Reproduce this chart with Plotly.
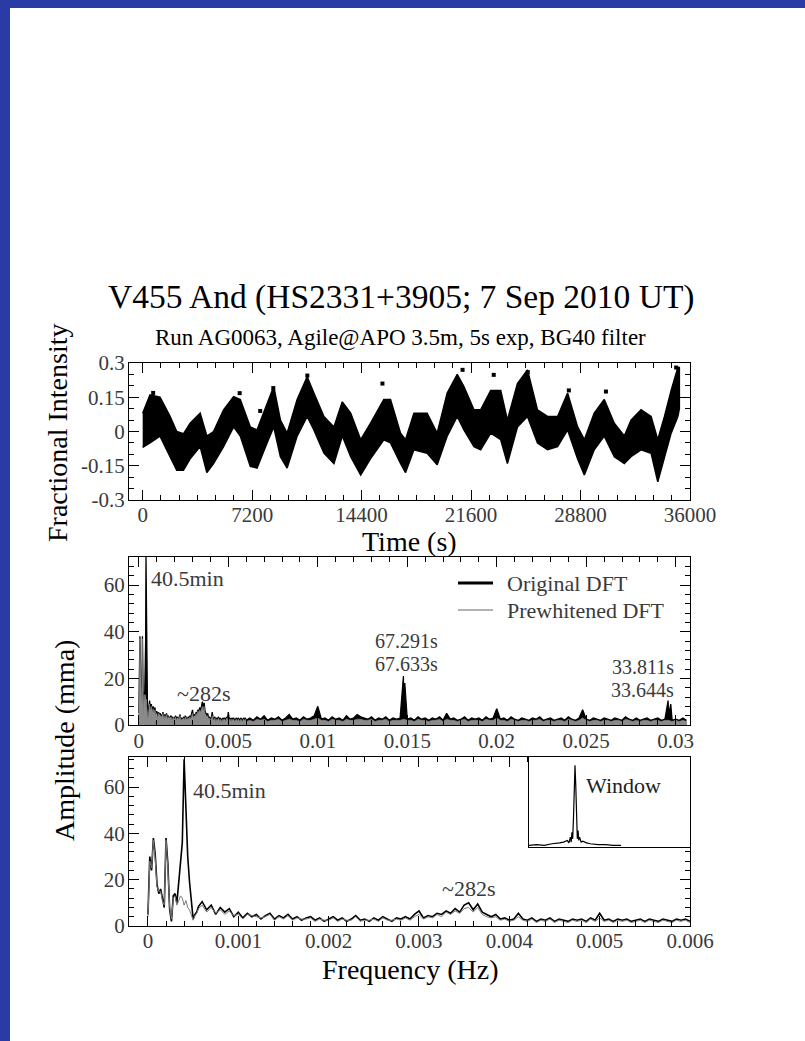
import numpy as np
import plotly.graph_objects as go

W, H = 805, 1041
FONT = "Liberation Serif"
TXT = "#3a3a3a"

# ---------------- light curve (envelope of the dense point band) ----------------
lc_t = [0, 480, 1140, 1800, 2240, 2680, 3120, 3780, 4220, 4660,
        5320, 5980, 6420, 7080, 7520, 8180, 8620, 9060, 9500, 10160,
        10820, 11260, 11920, 12580, 13130, 13680, 14340, 14980, 15860, 16300,
        16960, 17290, 17840, 18710, 19370, 20030, 20690, 21130, 21790, 22230,
        22890, 23550, 23990, 24650, 25310, 25970, 26630, 27290, 27950, 28610,
        29050, 29700, 30360, 31020, 31680, 32120, 32780, 33440, 33880, 34320,
        34760, 35200, 35300]
lc_upper = [0.08, 0.16, 0.15, 0.066, 0.0, -0.01, 0.036, 0.08, -0.02, 0.0,
            0.095, 0.153, 0.14, 0.02, 0.007, 0.124, 0.197, 0.05, -0.007, 0.14,
            0.24, 0.168, 0.066, 0.02, 0.13, 0.08, -0.036, 0.036, 0.14, 0.14,
            -0.007, -0.036, 0.08, 0.08, -0.007, 0.168, 0.25, 0.197, 0.095, 0.095,
            0.18, 0.18, 0.05, 0.21, 0.27, 0.095, 0.066, 0.066, 0.168, 0.02,
            -0.036, 0.08, 0.14, 0.036, -0.02, 0.05, 0.095, 0.066, -0.036, 0.066,
            0.18, 0.28, 0.28]
lc_lower = [-0.07, -0.05, -0.02, -0.11, -0.17, -0.17, -0.12, -0.066, -0.18, -0.14,
            -0.066, 0.02, -0.02, -0.153, -0.16, -0.05, 0.02, -0.11, -0.16, -0.02,
            0.066, 0.007, -0.095, -0.14, -0.02, -0.11, -0.19, -0.12, -0.036, -0.05,
            -0.14, -0.18, -0.08, -0.095, -0.146, -0.02, 0.066, 0.007, -0.066, -0.08,
            -0.007, -0.036, -0.14, 0.02, 0.066, -0.05, -0.08, -0.066, 0.007, -0.12,
            -0.19, -0.08, -0.02, -0.11, -0.14, -0.11, -0.08, -0.095, -0.22, -0.11,
            -0.007, 0.066, 0.1]
out_t = [690, 6380, 7730, 8590, 10830, 15770, 21040, 23090, 25330, 28030, 30470, 35090]
out_v = [0.169, 0.168, 0.09, 0.19, 0.245, 0.21, 0.27, 0.248, 0.26, 0.18, 0.175, 0.28]

# ---------------- DFT (amplitude in mma) ----------------
f_core = np.round(np.arange(0.0, 0.00060001, 0.00002), 6)      # 31 values
f_mid = np.round(np.arange(0.00065, 0.0060001, 0.00005), 6)    # 108 values
f_hi = np.round(np.arange(0.0062, 0.0306001, 0.0002), 5)       # 123 values

orig_core = [5, 30, 24, 38, 31, 18, 14, 16, 12, 8,
             38, 27, 7, 2, 13, 14, 10, 19, 29, 36,
             72, 46, 30, 19, 9, 3, 5, 6, 8.5, 9.5, 10.5]
prew_core = [4, 28, 25, 37, 29, 17, 15, 15, 11, 9,
             37, 25, 8, 3, 12, 13, 9, 11, 13, 12,
             9, 11, 8, 7, 5, 2.5, 4.5, 5.5, 7.5, 8.5, 9]
orig_mid = [7, 9, 5, 8, 6, 7.5, 4, 6, 3.5, 5.5,
            4, 5, 3, 4.5, 5.5, 3, 4.5, 3.5, 5, 3,
            4, 2.5, 3.5, 4, 2.5, 3.5, 2, 3, 4, 2.5,
            3.5, 2, 3, 4.5, 2.5, 3, 2, 3.5, 2.5, 4,
            3, 2, 3.5, 3, 4, 3, 5, 6.5, 3.5, 4.5,
            4, 5.5, 5, 6.5, 5.5, 7.5, 6, 9, 10, 7,
            9.5, 6, 5, 4, 5, 3, 3.5, 2.5, 3, 5.5,
            3, 2.5, 3.5, 2, 3, 2.5, 3.5, 2, 3, 2.5,
            2, 3, 2.5, 3, 2, 3.5, 2.5, 5.5, 2.5, 3,
            2, 3, 2.5, 3, 2, 2.5, 3, 2, 3, 2.5,
            2, 3, 2.5, 2, 3, 2.5, 3, 2]
prew_mid = [6, 8, 5.5, 7, 5, 6.5, 4.5, 5, 3, 5,
            4.5, 4, 3.5, 4, 5, 2.5, 4, 3, 4.5, 2.5,
            3.5, 3, 3, 3.5, 2, 3, 2.5, 2.5, 3.5, 2,
            3, 2.5, 2.5, 4, 2, 2.5, 2.5, 3, 2, 3.5,
            2.5, 2.5, 3, 2.5, 3.5, 2.5, 4, 5, 3, 4,
            3.5, 5, 4, 6, 5, 6.5, 5.5, 7.5, 8, 6,
            8, 5, 4, 3.5, 4, 2.5, 3, 2, 2.5, 4,
            2.5, 2, 3, 1.5, 2.5, 2, 3, 1.5, 2.5, 2,
            1.5, 2.5, 2, 2.5, 1.5, 3, 2, 3.5, 2, 2.5,
            1.5, 2.5, 2, 2.5, 1.5, 2, 2.5, 1.5, 2.5, 2,
            1.5, 2.5, 2, 1.5, 2.5, 2, 2.5, 1.5]
orig_hi = [3, 2, 3.5, 2.5, 4, 2, 3, 2.5, 3.5, 2,
           3, 4.5, 2.5, 3, 2, 3.5, 2.5, 3, 4, 8,
           2.5, 3, 2, 3.5, 2.5, 3, 2, 4, 2.5, 3,
           4.5, 3.5, 3, 2.5, 3.5, 2, 3, 2.5, 3.5, 2,
           3, 2.5, 3, 6, 2.5, 3, 2, 3.5, 2.5, 3,
           2, 3, 2.5, 3.5, 2, 5, 2.5, 3, 2, 2.5,
           3.5, 2, 3, 2.5, 3, 2, 3.5, 2.5, 3, 7,
           2.5, 3, 2, 3.5, 2.5, 2, 3, 2.5, 2, 3,
           2.5, 3.5, 2, 2.5, 3, 2, 2.5, 3, 2, 3.5,
           2.5, 2, 3, 6.5, 2.5, 2, 3, 2.5, 2, 3,
           2.5, 2, 3, 2.5, 2, 3.5, 2.5, 2, 3, 2,
           2.5, 3, 2, 2.5, 3, 2, 2.5, 4, 2, 2.5,
           2, 3, 2]
prew_hi = [2, 1.5, 2.5, 2, 2.5, 1.5, 2, 2, 2.5, 1.5,
           2, 2.5, 2, 2, 1.5, 2.5, 2, 2, 2.5, 3,
           2, 2, 1.5, 2.5, 2, 2, 1.5, 2.5, 2, 2,
           2.5, 2.5, 2, 2, 2.5, 1.5, 2, 2, 2.5, 1.5,
           2, 2, 2, 2.5, 2, 2, 1.5, 2.5, 2, 2,
           1.5, 2, 2, 2.5, 1.5, 2.5, 2, 2, 1.5, 2,
           2.5, 1.5, 2, 2, 2, 1.5, 2.5, 2, 2, 3,
           2, 2, 1.5, 2.5, 2, 1.5, 2, 2, 1.5, 2,
           2, 2.5, 1.5, 2, 2, 1.5, 2, 2, 1.5, 2.5,
           2, 1.5, 2, 3, 2, 1.5, 2, 2, 1.5, 2,
           2, 1.5, 2, 2, 1.5, 2.5, 2, 1.5, 2, 1.5,
           2, 2, 1.5, 2, 2, 1.5, 2, 2, 1.5, 2,
           1.5, 2, 1.5]
# pulsation peaks present only in the original DFT
peak_f = [0.014786, 0.014861, 0.029576, 0.029723]
peak_amp = [21, 18, 10.5, 9]

# spectral window (inset), frequency offset in Hz
win_f = [-0.0006, -0.0005, -0.0004, -0.0003, -0.0002, -0.00015, -0.0001, -0.00008,
         -0.00006, -0.00005, -0.00004, -0.00003, -0.00002, -0.00001, 0.0,
         0.00001, 0.00002, 0.00003, 0.00004, 0.00005, 0.00006, 0.00008, 0.0001,
         0.00015, 0.0002, 0.0003, 0.0004, 0.0005, 0.0006]
win_amp = [0.02, 0.03, 0.02, 0.04, 0.05, 0.06, 0.08, 0.05,
           0.12, 0.06, 0.18, 0.1, 0.35, 0.75, 1.0,
           0.75, 0.35, 0.1, 0.2, 0.08, 0.12, 0.06, 0.07,
           0.05, 0.04, 0.03, 0.03, 0.02, 0.02]

legend_names = ["Original DFT", "Prewhitened DFT"]

# assemble spectra
f_orig = np.concatenate([f_core, f_mid, f_hi, peak_f])
a_orig = np.concatenate([orig_core, orig_mid, orig_hi, peak_amp])
order = np.argsort(f_orig)
f_orig, a_orig = f_orig[order], a_orig[order]
f_prew = np.concatenate([f_core, f_mid, f_hi])
a_prew = np.concatenate([prew_core, prew_mid, prew_hi])
f_low = np.concatenate([f_core, f_mid])
a_low_orig = np.concatenate([orig_core, orig_mid])
a_low_prew = np.concatenate([prew_core, prew_mid])

# ---------------- figure ----------------
def px_x(p):
    return p / W


def px_y(p):
    return 1 - p / H


fig = go.Figure()

# panel 1
fig.add_trace(go.Scatter(x=lc_t + lc_t[::-1], y=lc_upper + lc_lower[::-1], fill="toself",
                         fillcolor="black", line=dict(color="black", width=1.5),
                         mode="lines", xaxis="x", yaxis="y", showlegend=False, hoverinfo="skip"))
fig.add_trace(go.Scatter(x=out_t, y=out_v, mode="markers",
                         marker=dict(color="black", size=4, symbol="square"),
                         xaxis="x", yaxis="y", showlegend=False))

# panel 2
fig.add_trace(go.Scatter(x=f_orig, y=a_orig, mode="lines", fill="tozeroy", fillcolor="black",
                         line=dict(color="black", width=1.3), xaxis="x2", yaxis="y2",
                         name=legend_names[0], showlegend=False))
fig.add_trace(go.Scatter(x=f_prew, y=a_prew, mode="lines", fill="tozeroy", fillcolor="#8a8a8a",
                         line=dict(color="#8a8a8a", width=0.6), xaxis="x2", yaxis="y2",
                         name=legend_names[1], showlegend=False))

# panel 3
fig.add_trace(go.Scatter(x=f_low, y=a_low_orig, mode="lines", line=dict(color="black", width=1.6),
                         xaxis="x3", yaxis="y3", showlegend=False))
fig.add_trace(go.Scatter(x=f_low, y=a_low_prew, mode="lines", line=dict(color="#7a7a7a", width=1),
                         xaxis="x3", yaxis="y3", showlegend=False))

# inset window
fig.add_trace(go.Scatter(x=win_f, y=win_amp, mode="lines", line=dict(color="black", width=1.2),
                         xaxis="x4", yaxis="y4", showlegend=False))

tickfont = dict(family=FONT, size=21, color=TXT)


def ax(domain, rng, tickvals, ticktext, minor_dtick, anchor, standoff):
    return dict(domain=domain, range=rng, anchor=anchor, showline=True, linecolor="black",
                linewidth=1, mirror="allticks", ticks="inside", ticklen=10, tickwidth=1,
                tickcolor="black", tickmode="array", tickvals=tickvals, ticktext=ticktext,
                tickfont=tickfont, showgrid=False, zeroline=False, ticklabelstandoff=standoff,
                automargin=False,
                minor=dict(ticks="inside", ticklen=5, tickwidth=1, tickcolor="black",
                           dtick=minor_dtick, tick0=0, showgrid=False))


xd = [px_x(129), px_x(690)]
fig.update_layout(
    xaxis=ax(xd, [-900, 36000], [0, 7200, 14400, 21600, 28800, 36000],
             ["0", "7200", "14400", "21600", "28800", "36000"], 1200, "y", -4),
    yaxis=ax([px_y(500), px_y(363)], [-0.3, 0.3], [-0.3, -0.15, 0, 0.15, 0.3],
             ["-0.3", "-0.15", "0", "0.15", "0.3"], 0.05, "x", -1),
    xaxis2=ax(xd, [-0.00055, 0.0308], [0, 0.005, 0.01, 0.015, 0.02, 0.025, 0.03],
              ["0", "0.005", "0.01", "0.015", "0.02", "0.025", "0.03"], 0.001, "y2", -3),
    yaxis2=ax([px_y(725), px_y(557)], [0, 72], [0, 20, 40, 60], ["0", "20", "40", "60"], 4, "x2", -1),
    xaxis3=ax(xd, [-0.00021, 0.006], [0, 0.001, 0.002, 0.003, 0.004, 0.005, 0.006],
              ["0", "0.001", "0.002", "0.003", "0.004", "0.005", "0.006"], 0.0002, "y3", -4),
    yaxis3=ax([px_y(926), px_y(757)], [0, 73], [0, 20, 40, 60], ["0", "20", "40", "60"], 4, "x3", -1),
    xaxis4=dict(domain=[px_x(529), px_x(690)], range=[-0.0006, 0.0015], anchor="y4",
                showline=True, linecolor="black", linewidth=1, mirror=False, ticks="",
                showticklabels=False, showgrid=False, zeroline=False, automargin=False),
    yaxis4=dict(domain=[px_y(847), px_y(757)], range=[0, 1.1], anchor="x4",
                showline=True, linecolor="black", linewidth=1, mirror=False, ticks="",
                showticklabels=False, showgrid=False, zeroline=False, automargin=False),
)

ann = []


def text(x, y, s, size, color="black", angle=0, xanchor="center", xref="paper", yref="paper"):
    ann.append(dict(x=x, y=y, text=s, showarrow=False, xref=xref, yref=yref, xanchor=xanchor,
                    yanchor="middle", textangle=angle, font=dict(family=FONT, size=size, color=color)))


text(px_x(401), px_y(297), "V455 And (HS2331+3905; 7 Sep 2010 UT)", 33.5)
text(px_x(400), px_y(337), "Run AG0063, Agile@APO 3.5m, 5s exp, BG40 filter", 23)
text(px_x(58), px_y(432), "Fractional Intensity", 28, angle=-90)
text(px_x(410), px_y(541), "Time (s)", 28)
text(px_x(64), px_y(741), "Amplitude (mma)", 28, angle=-90)
text(px_x(410), px_y(969), "Frequency (Hz)", 28)

# panel 2 labels (data coordinates)
text(0.00055, 62.6, "40.5min", 22, TXT, xanchor="left", xref="x2", yref="y2")
text(0.0036, 13.3, "~282s", 22, TXT, xref="x2", yref="y2")
text(0.01494, 36.0, "67.291s", 20, TXT, xref="x2", yref="y2")
text(0.01494, 26.1, "67.633s", 20, TXT, xref="x2", yref="y2")
text(0.03002, 24.8, "33.811s", 20, TXT, xanchor="right", xref="x2", yref="y2")
text(0.03002, 14.9, "33.644s", 20, TXT, xanchor="right", xref="x2", yref="y2")
# panel 3 labels
text(0.0009, 58.7, "40.5min", 22, TXT, xref="x3", yref="y3")
text(0.00355, 16.0, "~282s", 22, TXT, xref="x3", yref="y3")
text(px_x(623), px_y(785), "Window", 22, "#222222")
# legend (manual, inside panel 2)
text(px_x(505), px_y(583), legend_names[0], 22, TXT, xanchor="left")
text(px_x(505), px_y(610), legend_names[1], 22, TXT, xanchor="left")

fig.update_layout(
    width=W, height=H, margin=dict(l=0, r=0, t=0, b=0, pad=0, autoexpand=False), autosize=False,
    paper_bgcolor="white", plot_bgcolor="white", showlegend=False,
    annotations=ann,
    shapes=[
        dict(type="rect", xref="paper", yref="paper", x0=0, x1=px_x(10), y0=0, y1=1,
             fillcolor="#2b3ba6", line=dict(width=0), layer="above"),
        dict(type="rect", xref="paper", yref="paper", x0=0, x1=1, y0=px_y(8), y1=1,
             fillcolor="#2b3ba6", line=dict(width=0), layer="above"),
        dict(type="line", xref="paper", yref="paper", x0=px_x(458), x1=px_x(493),
             y0=px_y(583), y1=px_y(583), line=dict(color="black", width=3)),
        dict(type="line", xref="paper", yref="paper", x0=px_x(458), x1=px_x(493),
             y0=px_y(610), y1=px_y(610), line=dict(color="#999999", width=1.5)),
    ],
)

fig.write_html(
    "out.html",
    post_script="document.body.style.margin='0px';document.body.style.padding='0px';",
)
